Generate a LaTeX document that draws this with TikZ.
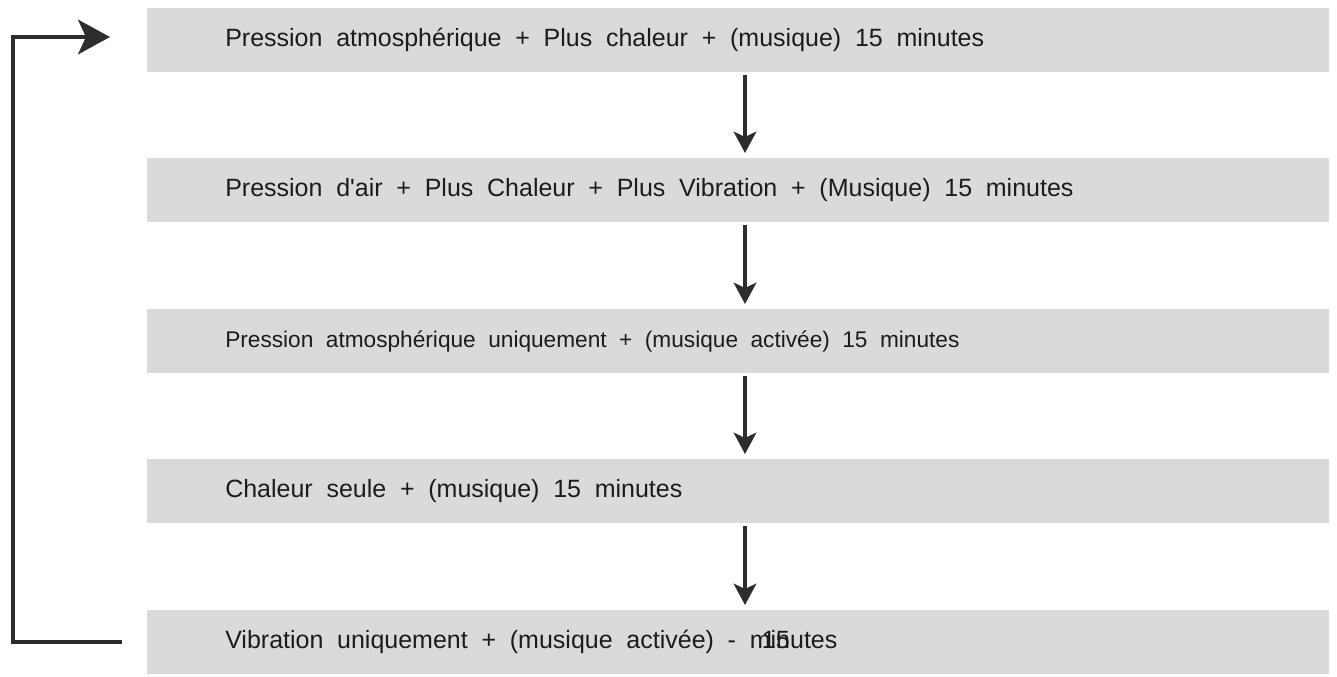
\documentclass[tikz,border=0pt]{standalone}
\usepackage{fontspec}
\setmainfont{Liberation Sans}
\usetikzlibrary{arrows.meta}
\definecolor{boxgray}{RGB}{218,218,218}
\definecolor{inkgray}{RGB}{45,45,45}
\definecolor{txtgray}{RGB}{28,28,28}
\newcommand\widespaces{\spaceskip=0.55em plus 0.1em\relax}
\tikzset{
  stepbox/.style={rectangle, fill=boxgray, draw=none, minimum width=886.5pt, minimum height=48pt,
    inner ysep=0pt, inner xsep=58.5pt, text width=769.5pt, align=left, anchor=north west,
    text=txtgray, font=\fontsize{18.75pt}{22pt}\selectfont, execute at begin node=\widespaces},
  smallbox/.style={stepbox, font=\fontsize{17pt}{20pt}\selectfont},
  flow/.style={draw=inkgray, line width=2.6pt, -{Stealth[length=16pt, width=17pt, inset=4pt]}, shorten <=1.5pt, shorten >=3.75pt},
  loopline/.style={draw=inkgray, line width=2.6pt, -{Stealth[length=24pt, width=26pt, inset=6pt]}}
}
\begin{document}
\begin{tikzpicture}[x=0.75pt, y=-0.75pt]
\useasboundingbox (0,0) rectangle (1337,676);
\node[stepbox] (b1) at (147,8) {Pression atmosphérique + Plus chaleur + (musique) 15 minutes};
\node[stepbox] (b2) at (147,158) {Pression d\textquotesingle air + Plus Chaleur + Plus Vibration + (Musique) 15 minutes};
\node[smallbox] (b3) at (147,309) {Pression atmosphérique uniquement + (musique activée) 15 minutes};
\node[stepbox] (b4) at (147,459) {Chaleur seule + (musique) 15 minutes};
\node[stepbox] (b5) at (147,610) {Vibration uniquement + (musique activée) - m\rlap{\kern-0.35em 15}inutes};
\coordinate (xa) at (745,0);
\draw[flow] (b1.south -| xa) -- (b2.north -| xa);
\draw[flow] (b2.south -| xa) -- (b3.north -| xa);
\draw[flow] (b3.south -| xa) -- (b4.north -| xa);
\draw[flow] (b4.south -| xa) -- (b5.north -| xa);
\coordinate (fbstart) at (122,642);
\coordinate (fbend) at (110,37);
\draw[loopline] (fbstart) -- (13,642) -- (13,37) -- (fbend);
\end{tikzpicture}
\end{document}
